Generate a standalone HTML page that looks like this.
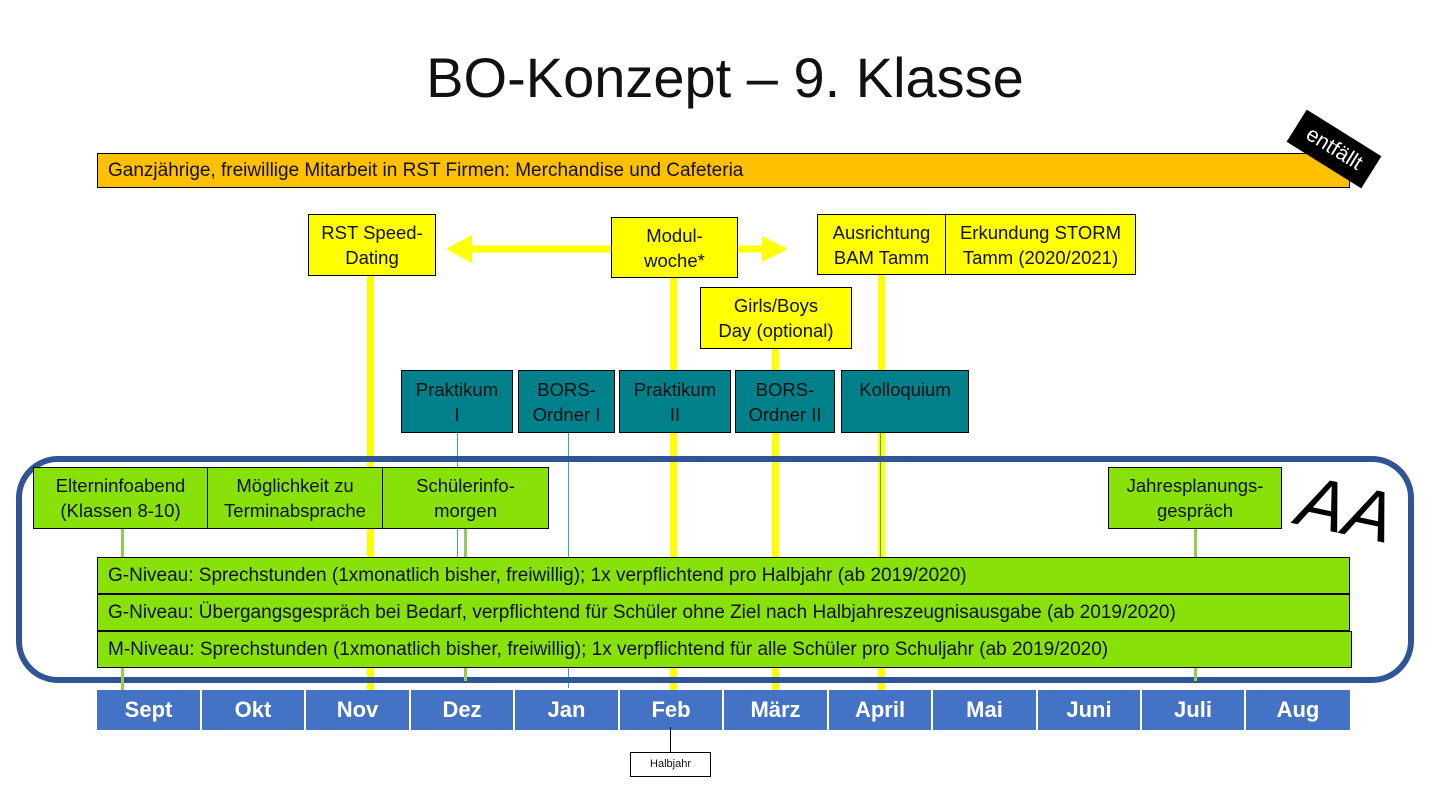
<!DOCTYPE html>
<html><head><meta charset="utf-8"><style>
body{margin:0;width:1434px;height:790px;background:#fff;position:relative;overflow:hidden;font-family:"Liberation Sans",sans-serif;}
.a{position:absolute;box-sizing:border-box;}
.b{position:absolute;box-sizing:border-box;display:flex;align-items:center;justify-content:center;text-align:center;font-size:18.5px;line-height:25px;color:#111;border:1px solid #000;white-space:nowrap;}
.y{background:#ffff00;}
.t{background:#00808a;align-items:flex-start;padding-top:6px;}
.g{background:#88e20a;}
.bar{justify-content:flex-start;padding-left:10px;font-size:19px;}
.vy{position:absolute;width:7px;background:#ffff00;}
.vb{position:absolute;width:1px;background:#3aa0d8;}
.vg{position:absolute;width:3px;background:#8fce50;}
.m{position:absolute;top:690px;height:40px;background:#4472c4;color:#fff;font-weight:bold;font-size:22px;display:flex;align-items:center;justify-content:center;border-right:2px solid #fff;box-sizing:border-box;}
</style></head><body>
<div class="a" style="left:8px;width:1434px;top:40px;text-align:center;font-size:56px;line-height:76px;color:#111;">BO-Konzept – 9. Klasse</div>

<div class="b bar" style="left:97px;top:153px;width:1253px;height:35px;background:#ffc000;">Ganzjährige, freiwillige Mitarbeit in RST Firmen: Merchandise und Cafeteria</div>
<div class="a" style="left:1290px;top:130px;width:88px;height:38px;background:#000;color:#fff;font-size:21px;line-height:38px;text-align:center;transform:rotate(32deg);">entfällt</div>

<div class="vy" style="left:367px;top:276px;height:414px"></div>
<div class="vy" style="left:670px;top:278px;height:412px"></div>
<div class="vy" style="left:772px;top:349px;height:341px"></div>
<div class="vy" style="left:878px;top:275px;height:415px"></div>

<svg class="a" style="left:440px;top:230px" width="360" height="40">
<line x1="20" y1="19" x2="172" y2="19" stroke="#ffff00" stroke-width="7"/>
<polygon points="6,19 32,5 32,33" fill="#ffff00"/>
<line x1="298" y1="19" x2="330" y2="19" stroke="#ffff00" stroke-width="7"/>
<polygon points="348,19 322,6 322,32" fill="#ffff00"/>
</svg>

<div class="b y" style="left:308px;top:214px;width:128px;height:62px">RST Speed-<br>Dating</div>
<div class="b y" style="left:611px;top:217px;width:127px;height:61px">Modul-<br>woche*</div>
<div class="b y" style="left:817px;top:214px;width:129px;height:61px">Ausrichtung<br>BAM Tamm</div>
<div class="b y" style="left:945px;top:214px;width:191px;height:61px">Erkundung STORM<br>Tamm (2020/2021)</div>
<div class="b y" style="left:700px;top:287px;width:152px;height:62px">Girls/Boys<br>Day (optional)</div>

<div class="vb" style="left:457px;top:433px;height:130px"></div>
<div class="vb" style="left:568px;top:433px;height:255px"></div>
<div class="vb" style="left:880px;top:433px;height:124px"></div>

<div class="b t" style="left:401px;top:370px;width:112px;height:63px">Praktikum<br>I</div>
<div class="b t" style="left:518px;top:370px;width:97px;height:63px">BORS-<br>Ordner I</div>
<div class="b t" style="left:619px;top:370px;width:112px;height:63px">Praktikum<br>II</div>
<div class="b t" style="left:735px;top:370px;width:100px;height:63px">BORS-<br>Ordner II</div>
<div class="b t" style="left:841px;top:370px;width:128px;height:63px">Kolloquium</div>

<div class="a" style="left:16px;top:456px;width:1398px;height:227px;border:6px solid #2f5597;border-radius:42px;"></div>

<div class="vg" style="left:121px;top:529px;height:161px"></div>
<div class="vg" style="left:464px;top:529px;height:152px"></div>
<div class="vg" style="left:1194px;top:529px;height:152px"></div>

<div class="b g" style="left:33px;top:467px;width:175px;height:62px">Elterninfoabend<br>(Klassen 8-10)</div>
<div class="b g" style="left:207px;top:467px;width:176px;height:62px">Möglichkeit zu<br>Terminabsprache</div>
<div class="b g" style="left:382px;top:467px;width:167px;height:62px">Schülerinfo-<br>morgen</div>
<div class="b g" style="left:1108px;top:467px;width:174px;height:62px">Jahresplanungs-<br>gespräch</div>

<div class="a" style="left:1298px;top:470px;font-size:72px;font-style:italic;color:#000;transform:rotate(12deg);line-height:80px;">AA</div>

<div class="b g bar" style="left:97px;top:557px;width:1253px;height:37px">G-Niveau: Sprechstunden (1xmonatlich bisher, freiwillig); 1x verpflichtend pro Halbjahr (ab 2019/2020)</div>
<div class="b g bar" style="left:97px;top:594px;width:1253px;height:37px">G-Niveau: Übergangsgespräch bei Bedarf, verpflichtend für Schüler ohne Ziel nach Halbjahreszeugnisausgabe (ab 2019/2020)</div>
<div class="b g bar" style="left:97px;top:631px;width:1255px;height:37px">M-Niveau: Sprechstunden (1xmonatlich bisher, freiwillig); 1x verpflichtend für alle Schüler pro Schuljahr (ab 2019/2020)</div>

<div class="m" style="left:97px;width:105px">Sept</div>
<div class="m" style="left:202px;width:104px">Okt</div>
<div class="m" style="left:306px;width:105px">Nov</div>
<div class="m" style="left:411px;width:104px">Dez</div>
<div class="m" style="left:515px;width:105px">Jan</div>
<div class="m" style="left:620px;width:104px">Feb</div>
<div class="m" style="left:724px;width:105px">März</div>
<div class="m" style="left:829px;width:104px">April</div>
<div class="m" style="left:933px;width:105px">Mai</div>
<div class="m" style="left:1038px;width:104px">Juni</div>
<div class="m" style="left:1142px;width:104px">Juli</div>
<div class="m" style="left:1246px;width:104px;border-right:none">Aug</div>

<div class="a" style="left:670px;top:727px;width:1px;height:25px;background:#000"></div>
<div class="b" style="left:630px;top:752px;width:81px;height:25px;font-size:11px;background:#fff">Halbjahr</div>
</body></html>
